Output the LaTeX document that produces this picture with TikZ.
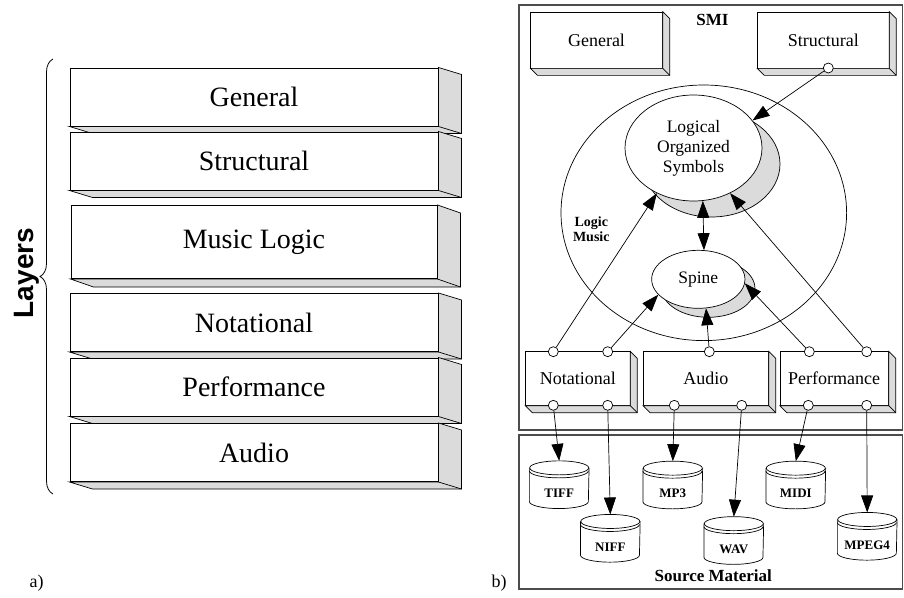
\documentclass[tikz,border=0pt]{standalone}
\usepackage{fontspec}
\setmainfont{Liberation Serif}
\newfontfamily\layerfont{Liberation Sans}
\usetikzlibrary{shapes.geometric, positioning, calc, arrows.meta, decorations.pathreplacing}

\definecolor{facegray}{gray}{0.86}
\definecolor{panelgray}{gray}{0.3}

\tikzset{
  tier/.style={draw, fill=white, line width=1pt, minimum width=368pt, minimum height=58pt, font=\fontsize{28}{30}\selectfont},
  face/.style={draw, fill=facegray},
  modbox/.style={draw, fill=white, minimum height=56pt, font=\fontsize{18}{20}\selectfont},
  port/.style={circle, draw, fill=white, minimum size=10pt, inner sep=0pt},
  blob/.style={ellipse, draw, fill=white, inner sep=0pt},
  shadowell/.style={ellipse, draw, fill=facegray, inner sep=0pt},
  disk/.style={inner sep=0pt, minimum width=59pt, minimum height=47pt},
  disktext/.style={font=\bfseries\fontsize{13}{15}\selectfont, yshift=-8.6pt},
  panel/.style={draw=panelgray, line width=1.2pt},
}

\newcommand{\slab}[3]{%
  \draw[face] (#1.south west) -- ++(#2,#3) -- ([shift={(#2,#3)}]#1.south east)
    -- ([shift={(#2,#3)}]#1.north east) -- (#1.north east) -- (#1.south east) -- cycle;
  \draw (#1.south east) -- ++(#2,#3);}

\newcommand{\drum}[1]{%
  \draw ($(#1.north)+(0,7)$) ellipse[x radius=29.5pt, y radius=7pt];
  \draw ($(#1.north west)+(0,7)$) -- ($(#1.south west)+(0,-7)$)
    arc[start angle=180, end angle=360, x radius=29.5pt, y radius=7pt] -- ($(#1.north east)+(0,7)$);
  \draw ($(#1.north west)+(0,10)$) arc[start angle=180, end angle=360, x radius=29.5pt, y radius=7pt];}

\begin{document}
\begin{tikzpicture}[x=1pt, y=-1pt, line width=0.7pt, >={Triangle[length=17pt, width=12pt]}]
    \useasboundingbox (0,0) rectangle (904,597);

    \node[tier] (gen) at (254,97) {General};
    \slab{gen}{23}{7}
    \node[tier] (str) at (254,161) {Structural};
    \slab{str}{23}{7}
    \node[tier, minimum width=366pt, minimum height=73pt] (logic) at (254,242) {Music Logic};
    \slab{logic}{23}{8}
    \node[tier] (nota) at (254,322.5) {Notational};
    \slab{nota}{23}{7}
    \node[tier] (perf) at (254,387) {Performance};
    \slab{perf}{23}{7}
    \node[tier] (audio) at (254,452.5) {Audio};
    \slab{audio}{23}{7}

    \draw[line width=0.8pt, decorate, decoration={brace, amplitude=13pt}] (53,494) -- (53,59);
    \node[rotate=90, anchor=base, font=\layerfont\bfseries\fontsize{28}{30}\selectfont] (layers) at (33,273) {Layers};
    \node[font=\fontsize{18}{20}\selectfont] (capa) at (36.5,583) {a)};

    \draw[panel] (519,5) rectangle (902.5,430);
    \draw[panel] (519,435) rectangle (902.5,589);
    \node[font=\bfseries\fontsize{17}{19}\selectfont] (smi) at (712.5,20) {SMI};
    \node[font=\bfseries\fontsize{17}{19}\selectfont] (src) at (713.3,576) {Source Material};
    \node[font=\fontsize{18}{20}\selectfont] (capb) at (499,583) {b)};

    \node[modbox, minimum width=131.6pt] (sgen) at (596.5,40) {General};
    \slab{sgen}{7}{7}
    \node[modbox, minimum width=131.3pt] (sstr) at (823.3,40) {Structural};
    \slab{sstr}{7}{7}

    \node[blob, minimum width=285.6pt, minimum height=255.6pt] (lm) at (703.8,212.8) {};
    \node[font=\bfseries\fontsize{14}{15}\selectfont, align=center] (lmtext) at (591.3,229) {Logic\\Music};
    \node[shadowell, minimum width=137pt, minimum height=106pt] (loss) at (711.5,164) {};
    \node[blob, minimum width=137pt, minimum height=106pt, align=center, font=\fontsize{17.5}{20}\selectfont] (los) at (693.5,148) {Logical\\Organized\\Symbols};
    \node[shadowell, minimum width=93.3pt, minimum height=58pt] (sps) at (708.3,288.3) {};
    \node[blob, minimum width=93.3pt, minimum height=58pt, font=\fontsize{17.5}{20}\selectfont] (sp) at (698.3,279.3) {Spine};

    \node[modbox, minimum width=104.3pt, minimum height=53.6pt] (snot) at (577.8,378.5) {Notational};
    \slab{snot}{7}{7}
    \node[modbox, minimum width=125pt, minimum height=53.6pt] (saud) at (705.8,378.5) {Audio};
    \slab{saud}{7}{7}
    \node[modbox, minimum width=108.3pt, minimum height=53.6pt] (sper) at (834.2,378.5) {Performance};
    \slab{sper}{7}{7}

    \node[port] (pstr) at (828.3,68) {};
    \node[port] (pn1) at (553.3,351.7) {};
    \node[port] (pn2) at (607.7,351.7) {};
    \node[port] (pa1) at (709.3,351.7) {};
    \node[port] (pp1) at (809.3,351.7) {};
    \node[port] (pp2) at (866.7,351.7) {};
    \node[port] (qn1) at (553.3,405.3) {};
    \node[port] (qn2) at (607.7,405.3) {};
    \node[port] (qa1) at (674.3,405.3) {};
    \node[port] (qa2) at (741.7,405.3) {};
    \node[port] (qp1) at (808.3,405.3) {};
    \node[port] (qp2) at (866.7,405.3) {};

    \node[disk, label={[disktext]center:TIFF}] (tiff) at (559.2,484.7) {};
    \drum{tiff}
    \node[disk, label={[disktext]center:NIFF}] (niff) at (610.3,538.3) {};
    \drum{niff}
    \node[disk, label={[disktext]center:MP3}] (mp3) at (672.8,485) {};
    \drum{mp3}
    \node[disk, label={[disktext]center:WAV}] (wav) at (733.8,540.5) {};
    \drum{wav}
    \node[disk, label={[disktext]center:MIDI}] (midi) at (795.8,485) {};
    \drum{midi}
    \node[disk, label={[disktext]center:MPEG4}] (mpeg) at (867.2,536.3) {};
    \drum{mpeg}

    \draw[->] (pstr) to (los.25);
    \draw[->] (pn1) to (los.231);
    \draw[->] (pp2) to (los.309);
    \draw[<->] (los.280) to (sp.79);
    \draw[->] (pn2) to (sp.201);
    \draw[->] (pa1) to (sp.285);
    \draw[->] (pp1) to (sp.355);

    \draw[->] (qn1) to (tiff.north);
    \draw[->] (qn2) to (niff.north);
    \draw[->] (qa1) to (mp3.north);
    \draw[->] (qa2) to (wav.north);
    \draw[->] (qp1) to (midi.north);
    \draw[->] (qp2) to (mpeg.north);
\end{tikzpicture}
\end{document}
